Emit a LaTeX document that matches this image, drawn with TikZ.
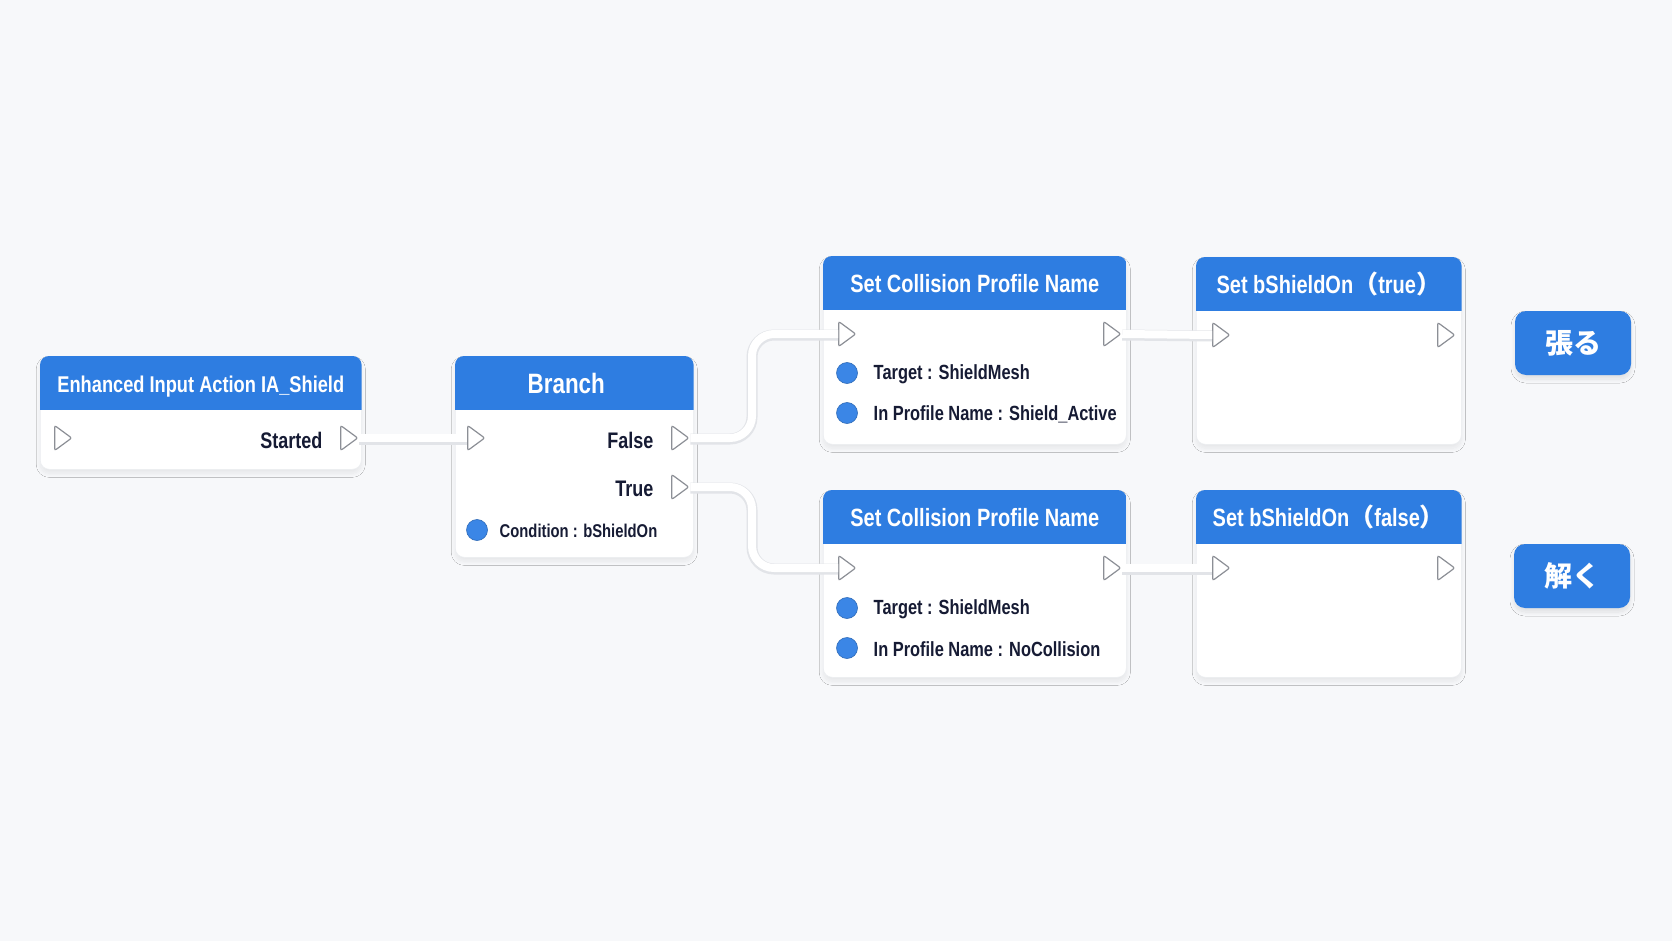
\documentclass[tikz,border=0pt]{standalone}
\usepackage{fontspec}
\setmainfont{Liberation Sans}[FakeStretch=0.8]
\newfontfamily\jpfont{Noto Sans CJK JP}
\usetikzlibrary{shapes.geometric,shadows.blur}

\definecolor{bgcol}{RGB}{247,248,250}
\definecolor{hdrblue}{RGB}{46,125,225}
\definecolor{circblue}{RGB}{59,134,230}
\definecolor{inkdark}{RGB}{22,27,52}
\definecolor{pingray}{RGB}{140,143,150}
\definecolor{edgegray}{RGB}{236,238,241}
\definecolor{wireshadow}{RGB}{226,228,232}

\tikzset{every picture/.style={line width=0.75pt}}
\tikzset{
  nodebody/.style={rectangle, rounded corners=9pt, fill=white, draw=edgegray, line width=0.6pt,
    anchor=north west, inner sep=0pt,
    blur shadow={shadow blur steps=12, shadow xshift=0pt, shadow yshift=-4pt, shadow blur radius=4pt, shadow opacity=7}},
  hdrtext/.style={text=white, anchor=base, font=\bfseries\fontsize{25}{30}\selectfont},
  execpin/.style={isosceles triangle, isosceles triangle stretches, minimum width=25pt, minimum height=17pt,
    inner sep=0pt, draw=pingray, fill=white, line width=1.2pt, rounded corners=2pt},
  datapin/.style={circle, minimum size=21pt, inner sep=0pt, fill=circblue, draw=circblue!80!black, line width=0.6pt},
  pinlabel/.style={text=inkdark, anchor=east, font=\bfseries\fontsize{22.5}{26}\selectfont},
  datalabel/.style={text=inkdark, anchor=west, font=\bfseries\fontsize{20.5}{24}\selectfont},
  wire/.style={draw=white, line width=8pt, rounded corners=22pt,
    preaction={draw=wireshadow, line width=11pt, transform canvas={yshift=-1pt}}},
  jpbutton/.style={rectangle, rounded corners=11pt, fill=hdrblue, text=white, inner sep=0pt,
    minimum width=116pt, minimum height=64pt, font=\jpfont\bfseries\fontsize{28}{32}\selectfont,
    blur shadow={shadow blur steps=12, shadow xshift=0pt, shadow yshift=-4pt, shadow blur radius=4pt, shadow opacity=10}}
}

% blue title band of a node body
\newcommand{\bphead}[1]{%
  \begin{scope}
    \clip[rounded corners=9pt] (#1.north west) rectangle (#1.south east);
    \fill[hdrblue] (#1.north west) rectangle ([yshift=-54pt]#1.north east);
  \end{scope}}

\begin{document}
\begin{tikzpicture}[x=1pt,y=-1pt]
	\useasboundingbox (0,0) rectangle (1672,941);
	\fill[bgcol] (0,0) rectangle (1672,941);

	%Shape: node bodies
	\node[nodebody, minimum width=321pt, minimum height=113pt] (enh) at (40,356) {};
	\node[nodebody, minimum width=238pt, minimum height=201pt] (br) at (455,356) {};
	\node[nodebody, minimum width=303pt, minimum height=188pt] (scpA) at (823,256) {};
	\node[nodebody, minimum width=303pt, minimum height=187pt] (scpB) at (823,490) {};
	\node[nodebody, minimum width=265pt, minimum height=187pt] (setT) at (1196,257) {};
	\node[nodebody, minimum width=265pt, minimum height=187pt] (setF) at (1196,490) {};
	\bphead{enh} \bphead{br} \bphead{scpA} \bphead{scpB} \bphead{setT} \bphead{setF}

	% Text Node
	\node[hdrtext, font=\bfseries\fontsize{22.8}{27}\selectfont] (enhT) at ([yshift=-36pt]enh.north) {Enhanced Input Action IA\_Shield};
	% Text Node
	\node[hdrtext, font=\bfseries\fontsize{28}{32}\selectfont] (brT) at ([xshift=-8pt,yshift=-37pt]br.north) {Branch};
	% Text Node
	\node[hdrtext] (scpAT) at ([yshift=-36pt]scpA.north) {Set Collision Profile Name};
	% Text Node
	\node[hdrtext] (scpBT) at ([yshift=-36pt]scpB.north) {Set Collision Profile Name};
	% Text Node
	\node[hdrtext] (setTT) at ([yshift=-36pt]setT.north) {Set bShieldOn{\jpfont （}true{\jpfont ）}};
	% Text Node
	\node[hdrtext] (setFT) at ([yshift=-36pt]setF.north) {Set bShieldOn{\jpfont （}false{\jpfont ）}};

	%Shape: exec pins
	\node[execpin] (enhIn) at (61,438) {};
	\node[execpin] (enhOut) at (347,438) {};
	\node[execpin] (brIn) at (474,438) {};
	\node[execpin] (brFalse) at (678,438) {};
	\node[execpin] (brTrue) at (678,487) {};
	\node[execpin] (scpAIn) at (845,334) {};
	\node[execpin] (scpAOut) at (1110,334) {};
	\node[execpin] (scpBIn) at (845,568) {};
	\node[execpin] (scpBOut) at (1110,568) {};
	\node[execpin] (setTIn) at (1219,335) {};
	\node[execpin] (setTOut) at (1444,335) {};
	\node[execpin] (setFIn) at (1219,568) {};
	\node[execpin] (setFOut) at (1444,568) {};

	%Shape: data pins
	\node[datapin] (brCond) at (477,530) {};
	\node[datapin] (scpATgt) at (847,373) {};
	\node[datapin] (scpAPrf) at (847,413) {};
	\node[datapin] (scpBTgt) at (847,608) {};
	\node[datapin] (scpBPrf) at (847,648) {};

	% Text Node
	\node[pinlabel] (lStarted) at (326,440) {Started};
	% Text Node
	\node[pinlabel] (lFalse) at (657,440) {False};
	% Text Node
	\node[pinlabel] (lTrue) at (657,489) {True};
	% Text Node
	\node[datalabel, font=\bfseries\fontsize{18.5}{22}\selectfont] (lCond) at (496,531) {Condition : bShieldOn};
	% Text Node
	\node[datalabel] (lTgtA) at (870,374) {Target : ShieldMesh};
	% Text Node
	\node[datalabel] (lPrfA) at (870,414) {In Profile Name : Shield\_Active};
	% Text Node
	\node[datalabel] (lTgtB) at (870,609) {Target : ShieldMesh};
	% Text Node
	\node[datalabel] (lPrfB) at (870,649) {In Profile Name : NoCollision};

	%Straight Lines: wires
	\coordinate (jog) at (752,0);
	\draw[wire] (enhOut.east) -- (brIn.west);
	\draw[wire] (brFalse.east) -- (jog |- brFalse.east) -- (jog |- scpAIn.west) -- (scpAIn.west);
	\draw[wire] (brTrue.east) -- (jog |- brTrue.east) -- (jog |- scpBIn.west) -- (scpBIn.west);
	\draw[wire] (scpAOut.east) -- (setTIn.west);
	\draw[wire] (scpBOut.east) -- (setFIn.west);

	% Text Node
	\node[jpbutton] (btnHaru) at (1573,343) {張る};
	% Text Node
	\node[jpbutton] (btnToku) at (1572,576) {解く};

\end{tikzpicture}
\end{document}
